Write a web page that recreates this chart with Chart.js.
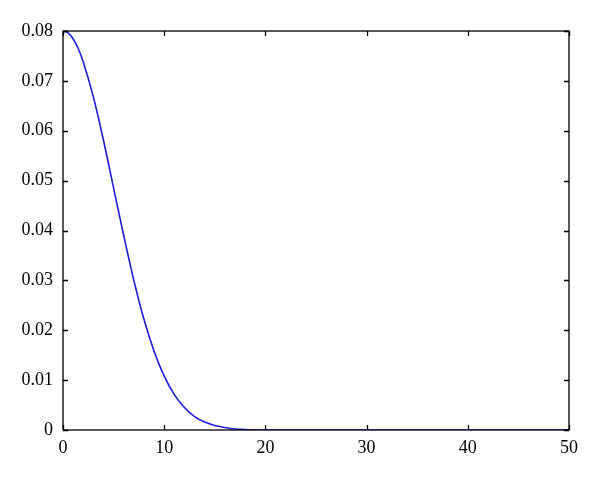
<!DOCTYPE html>
<html>
<head>
<meta charset="utf-8">
<script src="https://cdn.jsdelivr.net/npm/chart.js@4/dist/chart.umd.min.js"></script>
<style>
  html, body { margin: 0; padding: 0; background: #fff; }
  #wrap { width: 600px; height: 481px; }
</style>
</head>
<body>
<div id="wrap"><canvas id="curveChart" width="600" height="481"></canvas></div>
<script>
// values
const xValues = [0, 0.5, 1, 1.5, 2, 3, 4, 5, 6, 7, 8, 9, 10, 11, 12, 13, 14, 15, 16, 17, 18, 19, 20, 25, 30, 35, 40, 45, 50];
const yValues = [0.0800, 0.0796, 0.0784, 0.0765, 0.0738, 0.0668, 0.0581, 0.0485, 0.0390, 0.0300,
                 0.0222, 0.0158, 0.0108, 0.0071, 0.0045, 0.0027, 0.0016, 0.0009, 0.0005, 0.0002,
                 0.0001, 0.0000, 0, 0, 0, 0, 0, 0, 0];
const xTicks = [0, 10, 20, 30, 40, 50];
const yTicks = [0, 0.01, 0.02, 0.03, 0.04, 0.05, 0.06, 0.07, 0.08];

const labelFont = { family: "'Liberation Serif', 'Times New Roman', serif", size: 18 };

document.addEventListener("DOMContentLoaded", function () {

    // box round the plot + inward ticks on all four sides
    const boxTicks = {
        id: "boxTicks",
        afterDraw(chart) {
            const ctx = chart.ctx;
            const a = chart.chartArea;
            const xs = chart.scales.x, ys = chart.scales.y;
            const len = 5;
            ctx.save();
            ctx.strokeStyle = "#000";
            ctx.lineWidth = 1.3;
            ctx.strokeRect(a.left, a.top, a.right - a.left, a.bottom - a.top);
            ctx.beginPath();
            xTicks.forEach(function (v) {
                const px = Math.round(xs.getPixelForValue(v)) + 0.5;
                ctx.moveTo(px, a.bottom); ctx.lineTo(px, a.bottom - len);
                ctx.moveTo(px, a.top); ctx.lineTo(px, a.top + len);
            });
            yTicks.forEach(function (v) {
                const py = Math.round(ys.getPixelForValue(v)) + 0.5;
                ctx.moveTo(a.left, py); ctx.lineTo(a.left + len, py);
                ctx.moveTo(a.right, py); ctx.lineTo(a.right - len, py);
            });
            ctx.stroke();
            ctx.restore();
        }
    };

    const canvas = document.getElementById("curveChart");
    new Chart(canvas, {
        type: "line",
        data: {
            datasets: [{
                data: xValues.map(function (x, i) { return { x: x, y: yValues[i] }; }),
                borderColor: "#1c1ce0",
                borderWidth: 1.6,
                pointRadius: 0,
                fill: false,
                cubicInterpolationMode: "monotone"
            }]
        },
        options: {
            responsive: false,
            animation: false,
            layout: { padding: { left: 0, top: 31, right: 31, bottom: 11 } },
            plugins: { legend: { display: false }, tooltip: { enabled: false } },
            scales: {
                x: {
                    type: "linear",
                    min: 0, max: 50,
                    afterBuildTicks: function (s) { s.ticks = xTicks.map(function (v) { return { value: v }; }); },
                    afterFit: function (s) { s.height = 40; },
                    grid: { display: false, drawTicks: false },
                    border: { display: false },
                    ticks: { color: "#000", padding: 7, maxRotation: 0, font: labelFont }
                },
                y: {
                    min: 0, max: 0.08,
                    afterBuildTicks: function (s) { s.ticks = yTicks.map(function (v) { return { value: v }; }); },
                    afterFit: function (s) { s.width = 63; },
                    grid: { display: false, drawTicks: false },
                    border: { display: false },
                    ticks: {
                        color: "#000",
                        padding: 10,
                        font: labelFont,
                        callback: function (v) { return v === 0 ? "0" : v.toFixed(2); }
                    }
                }
            }
        },
        plugins: [boxTicks]
    });
});
</script>
</body>
</html>
